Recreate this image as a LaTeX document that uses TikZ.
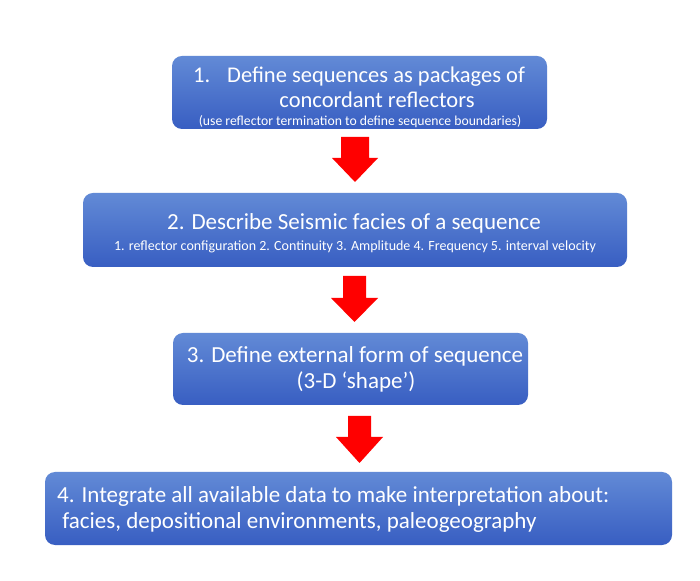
\documentclass[tikz,border=0pt]{standalone}
\usepackage{fontspec}
\setmainfont{Carlito}
\definecolor{boxtop}{RGB}{98,138,214}
\definecolor{boxbot}{RGB}{56,94,194}
\definecolor{arrowred}{RGB}{255,0,0}
\begin{document}
\begin{tikzpicture}[x=1pt,y=1pt,
  stepbox/.style={rounded corners=10pt, top color=boxtop, bottom color=boxbot, draw=none, inner sep=0pt},
  bigtxt/.style={text=white, font=\fontsize{23}{27}\selectfont, inner sep=0pt, anchor=base},
  bigleft/.style={bigtxt, anchor=base west},
  smalltxt/.style={text=white, font=\fontsize{14}{16}\selectfont, inner sep=0pt, anchor=base},
  redarrow/.style={fill=arrowred, draw=none}]
\useasboundingbox (0,0) rectangle (700,580);
\fill[white] (0,0) rectangle (700,580);

% boxes
\node[stepbox, minimum width=375pt, minimum height=73pt] (b1) at (359.5,487.5) {};
\node[stepbox, minimum width=544pt, minimum height=74pt] (b2) at (355,350) {};
\node[stepbox, minimum width=355pt, minimum height=72pt] (b3) at (350.5,211) {};
\node[stepbox, minimum width=627pt, minimum height=73pt] (b4) at (358.5,71.5) {};

% box 1 text
\node[bigleft, font=\fontsize{22.5}{27}\selectfont] (t1n) at (193,497) {1.};
\node[bigleft, font=\fontsize{22.5}{27}\selectfont] (t1a) at (227,497) {Define sequences as packages of};
\node[bigtxt, font=\fontsize{22.5}{27}\selectfont] (t1b) at (377,472) {concordant reflectors};
\node[smalltxt, font=\fontsize{13.7}{16}\selectfont] (t1c) at (360,454) {(use reflector termination to define sequence boundaries)};

% box 2 text
\node[bigtxt] (t2a) at (354,350) {2. Describe Seismic facies of a sequence};
\node[smalltxt] (t2b) at (355,329) {1. reflector configuration 2. Continuity 3. Amplitude 4. Frequency 5. interval velocity};

% box 3 text
\node[bigtxt] (t3a) at (355,217) {3. Define external form of sequence};
\node[bigtxt] (t3b) at (356,191) {(3-D ‘shape’)};

% box 4 text
\node[bigleft] (t4a) at (57,77) {4. Integrate all available data to make interpretation about:};
\node[bigleft] (t4b) at (57,51) {\ facies, depositional environments, paleogeography};

% block arrows
\fill[redarrow] (341,443) -- (369,443) -- (369,422) -- (378,422) -- (355,398) -- (332,422) -- (341,422) -- cycle;
\fill[redarrow] (343,304) -- (366,304) -- (366,282) -- (378,282) -- (354.5,258) -- (331,282) -- (343,282) -- cycle;
\fill[redarrow] (348,164) -- (371,164) -- (371,143) -- (383,143) -- (359.5,117) -- (336,143) -- (348,143) -- cycle;
\end{tikzpicture}
\end{document}
